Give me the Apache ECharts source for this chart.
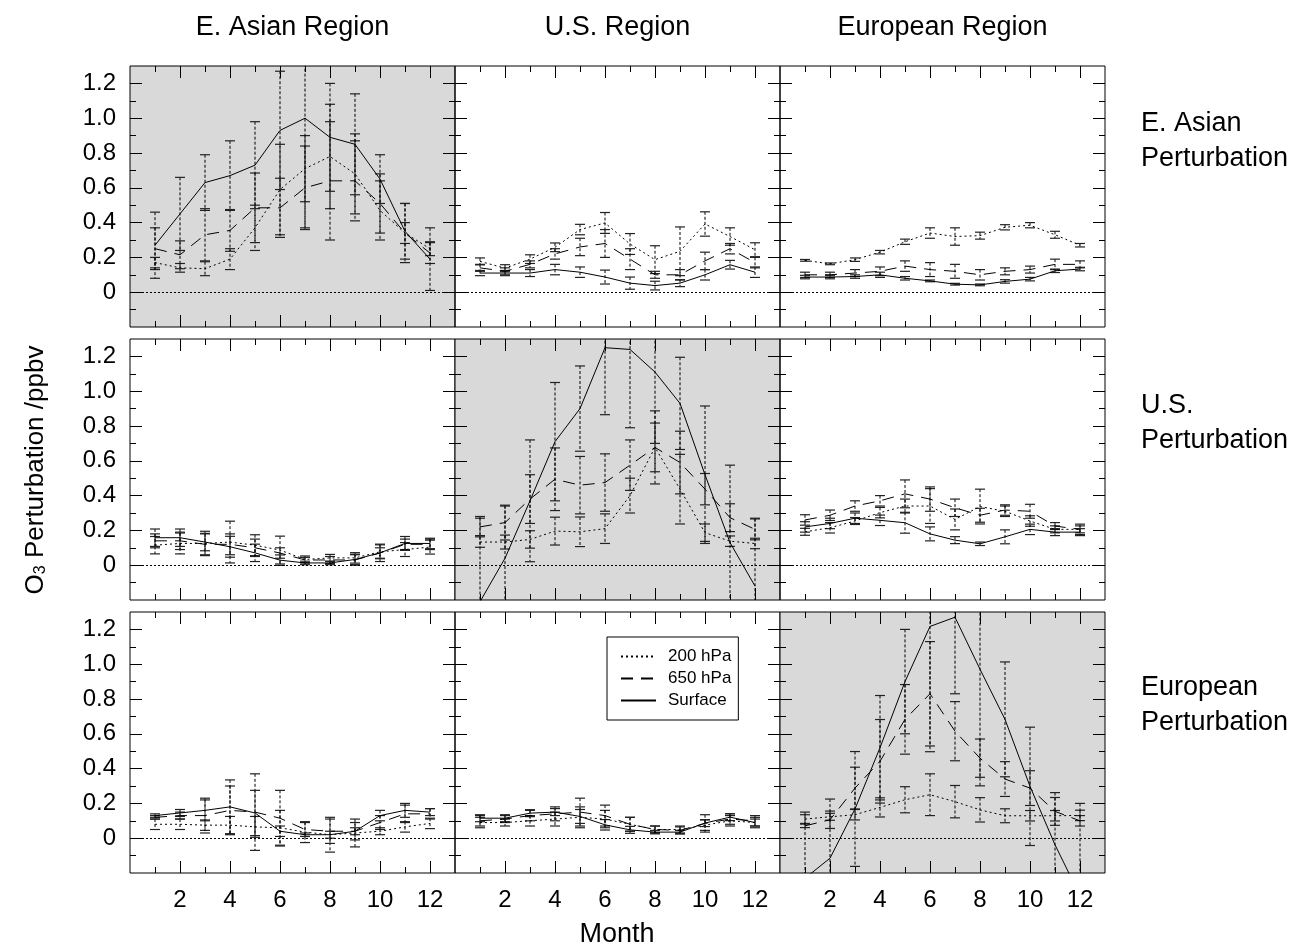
<!DOCTYPE html>
<html>
<head>
<meta charset="utf-8">
<script src="https://cdn.jsdelivr.net/npm/echarts@6/dist/echarts.min.js"></script>
<style>
html,body{margin:0;padding:0;background:#fff}
#chart{width:1297px;height:948px}
</style>
</head>
<body>
<div id="chart"></div>
<script>
const fontFamily = '"Liberation Sans", Arial, Helvetica, sans-serif';

const months = [1,2,3,4,5,6,7,8,9,10,11,12];
const xMajorTicks = [2,4,6,8,10,12];
const xMinorTicks = [1,3,5,7,9,11];
const yMajorTicks = [0,0.2,0.4,0.6,0.8,1.0,1.2];
const yMinorTicks = [-0.1,0.1,0.3,0.5,0.7,0.9,1.1];
const regionNames = ['E. Asian Region','U.S. Region','European Region'];
const perturbationNames = ['E. Asian\nPerturbation','U.S.\nPerturbation','European\nPerturbation'];
const perturbationLabelY = [141, 423, 705];
const levelNames = ['200 hPa','650 hPa','Surface'];

// E. Asian perturbation
const eaPert_eaReg_200 = [0.17,0.14,0.135,0.19,0.37,0.59,0.71,0.78,0.68,0.47,0.34,0.25];
const eaPert_eaReg_200Err = [0.03,0.025,0.04,0.06,0.13,0.26,0.19,0.3,0.23,0.17,0.06,0.04];
const eaPert_eaReg_650 = [0.25,0.215,0.33,0.355,0.485,0.485,0.6,0.64,0.64,0.51,0.34,0.225];
const eaPert_eaReg_650Err = [0.12,0.08,0.15,0.12,0.2,0.17,0.24,0.34,0.23,0.17,0.17,0.06];
const eaPert_eaReg_sfc = [0.27,0.45,0.63,0.67,0.73,0.93,1.0,0.89,0.85,0.65,0.35,0.19];
const eaPert_eaReg_sfcErr = [0.19,0.21,0.16,0.2,0.25,0.34,0.63,0.31,0.29,0.14,0.16,0.18];

const eaPert_usReg_200 = [0.177,0.138,0.19,0.258,0.36,0.398,0.277,0.187,0.235,0.392,0.32,0.244];
const eaPert_usReg_200Err = [0.02,0.02,0.025,0.025,0.03,0.06,0.06,0.08,0.14,0.07,0.05,0.04];
const eaPert_usReg_650 = [0.14,0.12,0.16,0.22,0.26,0.28,0.19,0.1,0.1,0.18,0.25,0.17];
const eaPert_usReg_650Err = [0.02,0.02,0.02,0.03,0.05,0.08,0.06,0.02,0.03,0.05,0.03,0.03];
const eaPert_usReg_sfc = [0.11,0.11,0.11,0.13,0.115,0.087,0.052,0.038,0.052,0.1,0.158,0.115];
const eaPert_usReg_sfcErr = [0.015,0.015,0.02,0.03,0.03,0.04,0.035,0.025,0.02,0.03,0.025,0.03];

const eaPert_euReg_200 = [0.183,0.163,0.187,0.23,0.29,0.34,0.32,0.325,0.373,0.385,0.33,0.27];
const eaPert_euReg_200Err = [0.005,0.005,0.01,0.01,0.015,0.03,0.05,0.02,0.015,0.015,0.02,0.01];
const eaPert_euReg_650 = [0.1,0.1,0.11,0.12,0.15,0.13,0.12,0.1,0.12,0.13,0.16,0.16];
const eaPert_euReg_650Err = [0.015,0.015,0.02,0.025,0.03,0.04,0.04,0.03,0.02,0.02,0.03,0.02];
const eaPert_euReg_sfc = [0.087,0.087,0.09,0.1,0.08,0.065,0.046,0.042,0.062,0.075,0.123,0.133];
const eaPert_euReg_sfcErr = [0.01,0.01,0.01,0.015,0.01,0.005,0.005,0.005,0.01,0.01,0.01,0.01];

// U.S. perturbation
const usPert_eaReg_200 = [0.115,0.125,0.125,0.133,0.115,0.087,0.033,0.042,0.042,0.077,0.09,0.104];
const usPert_eaReg_200Err = [0.05,0.06,0.07,0.12,0.06,0.08,0.02,0.02,0.03,0.04,0.04,0.04];
const usPert_eaReg_650 = [0.14,0.14,0.12,0.12,0.1,0.07,0.03,0.03,0.03,0.07,0.12,0.12];
const usPert_eaReg_650Err = [0.04,0.05,0.06,0.06,0.05,0.03,0.015,0.02,0.03,0.03,0.03,0.03];
const usPert_eaReg_sfc = [0.158,0.158,0.133,0.106,0.071,0.029,0.013,0.013,0.033,0.071,0.125,0.125];
const usPert_eaReg_sfcErr = [0.05,0.05,0.05,0.06,0.05,0.03,0.01,0.01,0.03,0.05,0.04,0.03];

const usPert_usReg_200 = [0.133,0.133,0.148,0.196,0.192,0.21,0.4,0.677,0.437,0.187,0.138,0.125];
const usPert_usReg_200Err = [0.03,0.04,0.05,0.08,0.085,0.085,0.1,0.21,0.2,0.05,0.03,0.03];
const usPert_usReg_650 = [0.22,0.245,0.38,0.494,0.46,0.475,0.575,0.677,0.59,0.437,0.273,0.206];
const usPert_usReg_650Err = [0.05,0.1,0.14,0.18,0.165,0.165,0.145,0.14,0.18,0.09,0.08,0.06];
const usPert_usReg_sfc = [-0.21,0.04,0.37,0.71,0.9,1.25,1.24,1.11,0.93,0.52,0.13,-0.12];
const usPert_usReg_sfcErr = [0.49,0.3,0.35,0.34,0.245,0.385,0.45,0.41,0.265,0.395,0.445,0.39];

const usPert_euReg_200 = [0.192,0.215,0.254,0.302,0.34,0.34,0.263,0.337,0.31,0.254,0.206,0.206];
const usPert_euReg_200Err = [0.02,0.03,0.02,0.03,0.04,0.1,0.06,0.1,0.03,0.03,0.02,0.03];
const usPert_euReg_650 = [0.26,0.287,0.34,0.37,0.41,0.38,0.33,0.287,0.317,0.31,0.225,0.206];
const usPert_euReg_650Err = [0.03,0.03,0.03,0.03,0.08,0.07,0.05,0.04,0.03,0.04,0.02,0.02];
const usPert_euReg_sfc = [0.22,0.24,0.27,0.258,0.244,0.18,0.144,0.123,0.163,0.206,0.19,0.19];
const usPert_euReg_sfcErr = [0.03,0.03,0.03,0.03,0.06,0.04,0.02,0.01,0.04,0.03,0.02,0.02];

// European perturbation
const euPert_eaReg_200 = [0.08,0.08,0.075,0.075,0.065,0.06,0.035,0.02,0.03,0.04,0.065,0.085];
const euPert_eaReg_200Err = [0.03,0.03,0.03,0.05,0.06,0.1,0.06,0.1,0.08,0.02,0.03,0.03];
const euPert_eaReg_650 = [0.12,0.13,0.13,0.16,0.15,0.115,0.05,0.04,0.04,0.09,0.14,0.14];
const euPert_eaReg_650Err = [0.01,0.02,0.1,0.14,0.22,0.16,0.04,0.07,0.05,0.04,0.05,0.03];
const euPert_eaReg_sfc = [0.13,0.145,0.16,0.18,0.145,0.04,0.02,0.02,0.04,0.13,0.16,0.15];
const euPert_eaReg_sfcErr = [0.01,0.02,0.06,0.155,0.13,0.03,0.01,0.02,0.02,0.03,0.04,0.02];

const euPert_usReg_200 = [0.09,0.09,0.1,0.11,0.12,0.11,0.08,0.05,0.05,0.075,0.1,0.09];
const euPert_usReg_200Err = [0.03,0.02,0.03,0.04,0.06,0.05,0.04,0.02,0.02,0.03,0.03,0.03];
const euPert_usReg_650 = [0.1,0.11,0.13,0.14,0.15,0.13,0.08,0.05,0.045,0.085,0.11,0.1];
const euPert_usReg_650Err = [0.03,0.02,0.03,0.04,0.08,0.06,0.04,0.02,0.02,0.05,0.03,0.03];
const euPert_usReg_sfc = [0.115,0.115,0.144,0.15,0.125,0.077,0.048,0.035,0.035,0.087,0.121,0.09];
const euPert_usReg_sfcErr = [0.02,0.02,0.02,0.02,0.04,0.03,0.02,0.01,0.01,0.02,0.02,0.02];

const euPert_euReg_200 = [0.11,0.123,0.135,0.177,0.221,0.25,0.21,0.163,0.129,0.129,0.129,0.131];
const euPert_euReg_200Err = [0.025,0.02,0.03,0.055,0.075,0.12,0.093,0.07,0.04,0.03,0.03,0.03];
const euPert_euReg_650 = [0.071,0.106,0.288,0.442,0.683,0.83,0.615,0.46,0.34,0.288,0.154,0.1];
const euPert_euReg_650Err = [0.01,0.05,0.12,0.24,0.2,0.3,0.17,0.11,0.1,0.1,0.08,0.03];
const euPert_euReg_sfc = [-0.23,-0.115,0.168,0.52,0.9,1.217,1.27,0.971,0.683,0.298,-0.038,-0.33];
const euPert_euReg_sfcErr = [0.38,0.34,0.33,0.3,0.3,0.72,0.44,0.67,0.33,0.34,0.3,0.53];

// panels[row = perturbation][col = region] -> [[values, errors] per level]
const panels = [
  [
    [[eaPert_eaReg_200, eaPert_eaReg_200Err], [eaPert_eaReg_650, eaPert_eaReg_650Err], [eaPert_eaReg_sfc, eaPert_eaReg_sfcErr]],
    [[eaPert_usReg_200, eaPert_usReg_200Err], [eaPert_usReg_650, eaPert_usReg_650Err], [eaPert_usReg_sfc, eaPert_usReg_sfcErr]],
    [[eaPert_euReg_200, eaPert_euReg_200Err], [eaPert_euReg_650, eaPert_euReg_650Err], [eaPert_euReg_sfc, eaPert_euReg_sfcErr]]
  ],
  [
    [[usPert_eaReg_200, usPert_eaReg_200Err], [usPert_eaReg_650, usPert_eaReg_650Err], [usPert_eaReg_sfc, usPert_eaReg_sfcErr]],
    [[usPert_usReg_200, usPert_usReg_200Err], [usPert_usReg_650, usPert_usReg_650Err], [usPert_usReg_sfc, usPert_usReg_sfcErr]],
    [[usPert_euReg_200, usPert_euReg_200Err], [usPert_euReg_650, usPert_euReg_650Err], [usPert_euReg_sfc, usPert_euReg_sfcErr]]
  ],
  [
    [[euPert_eaReg_200, euPert_eaReg_200Err], [euPert_eaReg_650, euPert_eaReg_650Err], [euPert_eaReg_sfc, euPert_eaReg_sfcErr]],
    [[euPert_usReg_200, euPert_usReg_200Err], [euPert_usReg_650, euPert_usReg_650Err], [euPert_usReg_sfc, euPert_usReg_sfcErr]],
    [[euPert_euReg_200, euPert_euReg_200Err], [euPert_euReg_650, euPert_euReg_650Err], [euPert_euReg_sfc, euPert_euReg_sfcErr]]
  ]
];

const lineTypes = [[2,3], [12,8], 'solid'];

function renderErrorBar(params, api) {
  const x = api.value(0);
  const top = api.coord([x, api.value(2)]);
  const bot = api.coord([x, api.value(1)]);
  const hw = 5;
  const capStyle = {stroke: '#222', lineWidth: 1.2};
  return {
    type: 'group',
    children: [
      {type: 'line', shape: {x1: top[0], y1: top[1], x2: bot[0], y2: bot[1]}, style: {stroke: '#000', lineWidth: 1, lineDash: [3,2]}},
      {type: 'line', shape: {x1: top[0]-hw, y1: top[1], x2: top[0]+hw, y2: top[1]}, style: capStyle},
      {type: 'line', shape: {x1: bot[0]-hw, y1: bot[1], x2: bot[0]+hw, y2: bot[1]}, style: capStyle}
    ]
  };
}

const chart = echarts.init(document.getElementById('chart'));
const grids = [], xAxes = [], yAxes = [], series = [];
const left0 = 130, top0 = 66, pw = 325, ph = 261, rowStep = 273;
const tickFont = 24, textFont = 27;

panels.forEach((row, r) => row.forEach((panel, c) => {
  const gi = grids.length;
  grids.push({
    left: left0 + pw*c, top: top0 + rowStep*r, width: pw, height: ph,
    show: true, borderColor: '#000', borderWidth: 1,
    backgroundColor: r === c ? '#d9d9d9' : 'rgba(0,0,0,0)',
    containLabel: false, outerBoundsMode: 'none'
  });
  const xi = xAxes.length, yi = yAxes.length;
  [['bottom', xMajorTicks, 12, r === 2], ['bottom', xMinorTicks, 6, false],
   ['top', xMajorTicks, 12, false], ['top', xMinorTicks, 6, false]].forEach(([pos, ticks, len, lab]) => {
    xAxes.push({
      gridIndex: gi, type: 'value', min: 0, max: 13, position: pos,
      axisLine: {show: false, onZero: false}, splitLine: {show: false},
      axisTick: {show: true, inside: true, length: len, customValues: ticks, lineStyle: {color: '#000', width: 1}},
      axisLabel: {show: lab, customValues: ticks, color: '#000', fontSize: tickFont, fontFamily: fontFamily, margin: 15}
    });
  });
  [['left', yMajorTicks, 12, c === 0], ['left', yMinorTicks, 6, false],
   ['right', yMajorTicks, 12, false], ['right', yMinorTicks, 6, false]].forEach(([pos, ticks, len, lab]) => {
    yAxes.push({
      gridIndex: gi, type: 'value', min: -0.2, max: 1.3, position: pos,
      axisLine: {show: false, onZero: false}, splitLine: {show: false},
      axisTick: {show: true, inside: true, length: len, customValues: ticks, lineStyle: {color: '#000', width: 1}},
      axisLabel: {show: lab, customValues: ticks, color: '#000', fontSize: tickFont, fontFamily: fontFamily, margin: 14,
        formatter: v => v === 0 ? '0' : v.toFixed(1)}
    });
  });
  panel.forEach(([vals, errs], k) => {
    series.push({
      type: 'custom', name: 'err', xAxisIndex: xi, yAxisIndex: yi, silent: true, clip: true, z: 2,
      data: months.map((m, i) => [m, vals[i] - errs[i], vals[i] + errs[i]]),
      renderItem: renderErrorBar
    });
    const s = {
      type: 'line', name: levelNames[k], xAxisIndex: xi, yAxisIndex: yi, silent: true, clip: true, z: 3,
      data: months.map((m, i) => [m, vals[i]]),
      symbol: 'none', showSymbol: false,
      lineStyle: {color: '#000', width: 1, type: lineTypes[k]},
      itemStyle: {color: '#000'}
    };
    if (k === 2) {
      s.markLine = {
        silent: true, symbol: ['none', 'none'], label: {show: false},
        lineStyle: {color: '#000', width: 1, type: [2,2]},
        data: [{yAxis: 0}]
      };
    }
    series.push(s);
  });
}));

const graphic = [];
regionNames.forEach((t, c) => {
  graphic.push({type: 'text', x: left0 + pw*c + pw/2, y: 28,
    style: {text: t, fill: '#000', font: textFont + 'px ' + fontFamily, align: 'center', verticalAlign: 'middle'}});
});
perturbationNames.forEach((t, r) => {
  graphic.push({type: 'text', x: 1141, y: perturbationLabelY[r],
    style: {text: t, fill: '#000', font: textFont + 'px ' + fontFamily, lineHeight: 35, align: 'left', verticalAlign: 'middle'}});
});
graphic.push({type: 'text', x: 617, y: 935,
  style: {text: 'Month', fill: '#000', font: textFont + 'px ' + fontFamily, align: 'center', verticalAlign: 'middle'}});
graphic.push({type: 'text', x: 36, y: 470, rotation: Math.PI/2,
  style: {
    text: '{a|O}{b|3}{a| Perturbation /ppbv}', fill: '#000', align: 'center', verticalAlign: 'middle',
    rich: {
      a: {fontSize: 26, fontFamily: fontFamily, fill: '#000'},
      b: {fontSize: 16, fontFamily: fontFamily, fill: '#000', verticalAlign: 'bottom', lineHeight: 8}
    }
  }});

chart.setOption({
  animation: false,
  grid: grids,
  xAxis: xAxes,
  yAxis: yAxes,
  legend: {
    data: levelNames, orient: 'vertical', left: 607, top: 637,
    backgroundColor: '#fff', borderColor: '#000', borderWidth: 1, borderRadius: 0,
    padding: [11, 7, 11, 13], itemWidth: 35, itemHeight: 14, itemGap: 5,
    selectedMode: false,
    itemStyle: {opacity: 0},
    textStyle: {fontSize: 17, fontFamily: fontFamily, color: '#000', padding: [0, 0, 0, 7]}
  },
  graphic: graphic,
  series: series
});
</script>
</body>
</html>
